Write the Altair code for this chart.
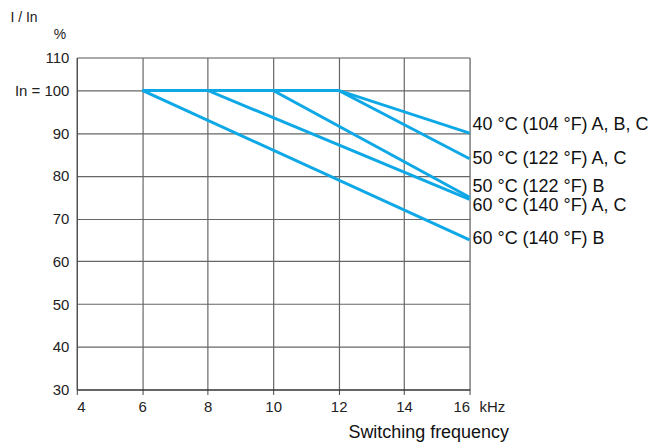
import altair as alt
import pandas as pd

# ---- data ----
SERIES = [
    "40 °C (104 °F) A, B, C",
    "50 °C (122 °F) A, C",
    "50 °C (122 °F) B",
    "60 °C (140 °F) A, C",
    "60 °C (140 °F) B",
]
S40_X = [6, 12, 16]
S40_Y = [100, 100, 90]
S50AC_X = [6, 12, 16]
S50AC_Y = [100, 100, 84]
S50B_X = [6, 10, 16]
S50B_Y = [100, 100, 75]
S60AC_X = [6, 8, 16]
S60AC_Y = [100, 100, 74.5]
S60B_X = [6, 16]
S60B_Y = [100, 65]

LABEL_Y = [91.8, 84.0, 77.3, 72.9, 65.2]

X_TICKS = [4, 6, 8, 10, 12, 14, 16]
Y_TICKS = [30, 40, 50, 60, 70, 80, 90, 100, 107.7]
Y_TICK_LABELS = ["30", "40", "50", "60", "70", "80", "90", "In = 100", "110"]

LINE_COLOR = "#0fa8e6"
FONT = "Liberation Sans"
GRID = "#666666"

rows = []
for name, xs, ys in zip(
    SERIES,
    [S40_X, S50AC_X, S50B_X, S60AC_X, S60B_X],
    [S40_Y, S50AC_Y, S50B_Y, S60AC_Y, S60B_Y],
):
    for i, (x, y) in enumerate(zip(xs, ys)):
        rows.append({"series": name, "freq": x, "pct": y, "order": i})
df = pd.DataFrame(rows)

lab_df = pd.DataFrame({
    "series": SERIES,
    "freq": [S40_X[-1], S50AC_X[-1], S50B_X[-1], S60AC_X[-1], S60B_X[-1]],
    "pct": LABEL_Y,
})

W, H = 394, 333

ylab = "datum.label"
for v, t in zip(Y_TICKS, Y_TICK_LABELS):
    ylab = f"(abs(datum.value - {v}) < 0.01 ? '{t}' : {ylab})"

xs = alt.Scale(domain=[4, 16], nice=False, zero=False)
ys = alt.Scale(domain=[30, 107.7], nice=False, zero=False)

x_axis = alt.Axis(
    values=X_TICKS, grid=True, gridColor=GRID, gridOpacity=1, gridWidth=1.2,
    ticks=True, tickSize=5, tickColor="#444",
    labelFontSize=15, labelPadding=5, labelColor="#222",
    title="Switching frequency", titleFontSize=18, titleFontWeight="normal",
    titleColor="#111", titleAlign="right", titleAnchor="start",
    titleX=433, titleY=43, titleBaseline="middle",
    domainColor="#222",
)
y_axis = alt.Axis(
    values=Y_TICKS, grid=True, gridColor=GRID, gridOpacity=1, gridWidth=1.2,
    ticks=False, labelExpr=ylab,
    labelFontSize=15, labelPadding=8, labelColor="#222",
    title=None, domainColor="#444",
)

lines = alt.Chart(df).mark_line(strokeWidth=3, color=LINE_COLOR).encode(
    x=alt.X("freq:Q", scale=xs, axis=x_axis),
    y=alt.Y("pct:Q", scale=ys, axis=y_axis),
    detail="series:N",
    order="order:Q",
)

labels = alt.Chart(lab_df).mark_text(
    align="left", baseline="middle", dx=3, fontSize=18, font=FONT, color="#111"
).encode(
    x=alt.X("freq:Q", scale=xs),
    y=alt.Y("pct:Q", scale=ys),
    text="series:N",
)

khz = alt.Chart(pd.DataFrame({"t": ["kHz"], "freq": [X_TICKS[-1]]})).mark_text(
    align="left", baseline="middle", dx=10, fontSize=15, font=FONT, color="#222"
).encode(
    x=alt.X("freq:Q", scale=xs),
    y=alt.value(H + 18),
    text="t:N",
)

ylab_title = alt.Chart(pd.DataFrame({"t": ["I / In"]})).mark_text(
    align="center", baseline="middle", fontSize=14, font=FONT, color="#222"
).encode(x=alt.value(-53), y=alt.value(-40), text="t:N")

pct = alt.Chart(pd.DataFrame({"t": ["%"]})).mark_text(
    align="center", baseline="middle", fontSize=14, font=FONT, color="#222"
).encode(x=alt.value(-17), y=alt.value(-23), text="t:N")

chart = alt.layer(lines, labels, khz, ylab_title, pct).properties(
    width=W, height=H,
    autosize=alt.AutoSizeParams(type="none"),
    padding={"left": 69, "top": 49, "right": 184, "bottom": 56},
).configure_view(stroke="#444", strokeWidth=1).configure_axis(
    labelFont=FONT, titleFont=FONT,
).configure(background="white")

chart.save("out.html", embed_options={"renderer": "svg", "actions": False})
